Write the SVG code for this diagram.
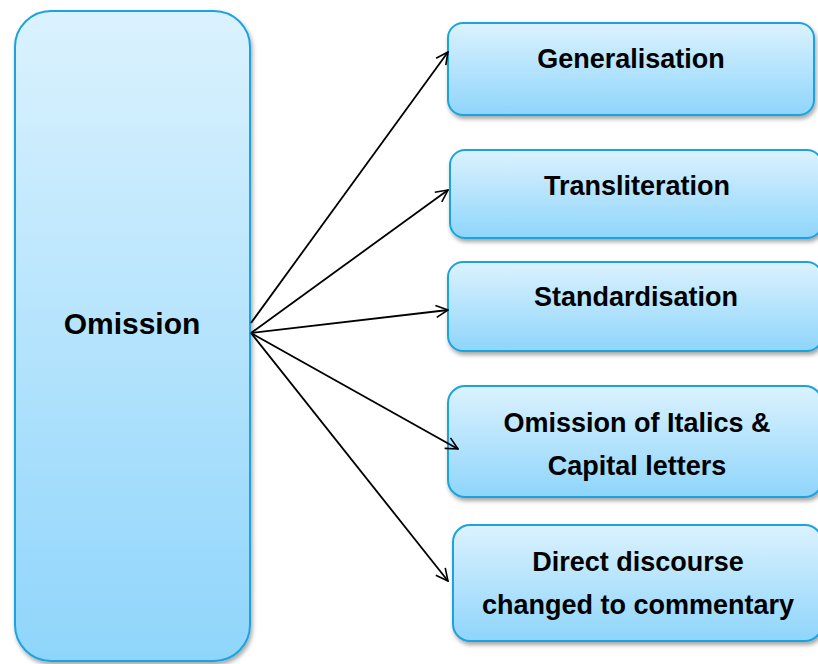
<svg xmlns="http://www.w3.org/2000/svg" width="818" height="664" viewBox="0 0 818 664">
<defs>
<linearGradient id="g" x1="0" y1="0" x2="0" y2="1">
<stop offset="0" stop-color="#dbf2fe"/>
<stop offset="1" stop-color="#8fd5fb"/>
</linearGradient>
<filter id="sh" x="-10%" y="-10%" width="120%" height="130%">
<feDropShadow dx="1.5" dy="3" stdDeviation="2" flood-color="#000" flood-opacity="0.35"/>
</filter>
<marker id="ah" viewBox="0 0 14 14" refX="13" refY="7" markerWidth="14" markerHeight="14" markerUnits="userSpaceOnUse" orient="auto">
<path d="M1,1 L13,7 L1,13" fill="none" stroke="#000" stroke-width="1.6"/>
</marker>
</defs>
<style>
.box{fill:url(#g);stroke:#1ea3de;stroke-width:2;filter:url(#sh)}
.t{font-family:"Liberation Sans",Arial,sans-serif;font-weight:bold;font-size:27px;fill:#000;text-anchor:middle}
.big{font-size:30px}
.c{fill:none;stroke:#000;stroke-width:1.8;marker-end:url(#ah)}
</style>
<rect width="818" height="664" fill="#fff"/>
<g id="omission">
<rect class="box" x="15" y="11" width="235" height="650" rx="36" ry="36"/>
<text class="t big" x="132" y="334">Omission</text>
</g>
<g id="generalisation">
<rect class="box" x="448" y="23" width="366" height="92" rx="15" ry="15"/>
<text class="t" x="631" y="68">Generalisation</text>
</g>
<g id="transliteration">
<rect class="box" x="450" y="150" width="372" height="88" rx="15" ry="15"/>
<text class="t" x="637" y="195">Transliteration</text>
</g>
<g id="standardisation">
<rect class="box" x="448" y="262" width="374" height="89" rx="15" ry="15"/>
<text class="t" x="636" y="306">Standardisation</text>
</g>
<g id="italics">
<rect class="box" x="448" y="386" width="374" height="111" rx="17" ry="17"/>
<text class="t" x="637" y="432">Omission of Italics &amp;</text>
<text class="t" x="637" y="475">Capital letters</text>
</g>
<g id="direct">
<rect class="box" x="453" y="525" width="369" height="116" rx="17" ry="17"/>
<text class="t" x="638" y="571">Direct discourse</text>
<text class="t" x="638" y="614">changed to commentary</text>
</g>
<g id="connectors">
<line class="c" x1="251" y1="323" x2="448" y2="52"/>
<line class="c" x1="251" y1="333" x2="448" y2="190"/>
<line class="c" x1="251" y1="333" x2="448" y2="310"/>
<line class="c" x1="251" y1="333" x2="458" y2="449"/>
<line class="c" x1="251" y1="333" x2="448" y2="581"/>
</g>
</svg>
